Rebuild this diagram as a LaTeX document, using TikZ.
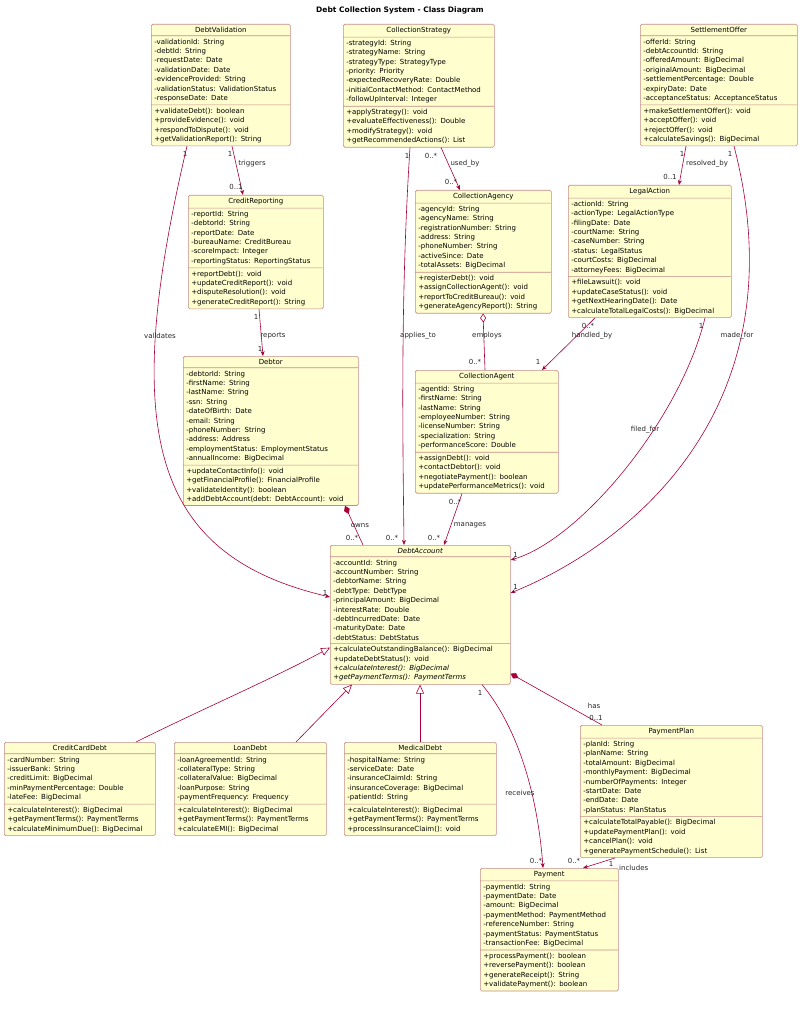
\documentclass[tikz,border=0pt]{standalone}
\usepackage{fontspec}
\setmainfont{DejaVu Sans}
\usetikzlibrary{shapes.multipart,arrows.meta,calc}
\definecolor{clsfill}{HTML}{FEFECE}
\definecolor{clsline}{HTML}{C88A8A}
\definecolor{edge}{HTML}{A80036}
\tikzset{
  cls/.style={rectangle split, rectangle split parts=3, draw=clsline, fill=clsfill,
    rounded corners=1.5pt, anchor=north west, inner xsep=3pt, inner ysep=2.7pt,
    font=\fontsize{7}{9.4}\selectfont, line width=0.6pt},
  rel/.style={draw=edge, line width=0.6pt},
  arr/.style={rel, -{Stealth[length=5pt,width=4pt]}},
  lab/.style={font=\fontsize{7}{8}\selectfont, inner sep=1pt, text=black!85},
  gen/.style={rel, -{Triangle[open,length=9pt,width=8pt]}},
}
\newcommand\umlcls[7]{%
  \node[cls, text width=#4pt-6pt] (#1) at (#2,#3) {\makebox[\linewidth][c]{#5}\nodepart{two}#6\nodepart{three}#7};}
\begin{document}
\begin{tikzpicture}[x=1pt,y=-1pt]
\useasboundingbox (0,0) rectangle (801,1024);
\node[font=\fontsize{7.5}{9}\selectfont\bfseries] (title) at (400,10) {Debt Collection System - Class Diagram};

\umlcls{dv}{151}{24}{139}{DebtValidation}{-validationId: String\\-debtId: String\\-requestDate: Date\\-validationDate: Date\\-evidenceProvided: String\\-validationStatus: ValidationStatus\\-responseDate: Date}{+validateDebt(): boolean\\+provideEvidence(): void\\+respondToDispute(): void\\+getValidationReport(): String}
\umlcls{cs}{343}{24}{151}{CollectionStrategy}{-strategyId: String\\-strategyName: String\\-strategyType: StrategyType\\-priority: Priority\\-expectedRecoveryRate: Double\\-initialContactMethod: ContactMethod\\-followUpInterval: Integer}{+applyStrategy(): void\\+evaluateEffectiveness(): Double\\+modifyStrategy(): void\\+getRecommendedActions(): List}
\umlcls{so}{640}{24}{157}{SettlementOffer}{-offerId: String\\-debtAccountId: String\\-offeredAmount: BigDecimal\\-originalAmount: BigDecimal\\-settlementPercentage: Double\\-expiryDate: Date\\-acceptanceStatus: AcceptanceStatus}{+makeSettlementOffer(): void\\+acceptOffer(): void\\+rejectOffer(): void\\+calculateSavings(): BigDecimal}
\umlcls{cr}{188}{195}{135}{CreditReporting}{-reportId: String\\-debtorId: String\\-reportDate: Date\\-bureauName: CreditBureau\\-scoreImpact: Integer\\-reportingStatus: ReportingStatus}{+reportDebt(): void\\+updateCreditReport(): void\\+disputeResolution(): void\\+generateCreditReport(): String}
\umlcls{ca}{415}{190}{136}{CollectionAgency}{-agencyId: String\\-agencyName: String\\-registrationNumber: String\\-address: String\\-phoneNumber: String\\-activeSince: Date\\-totalAssets: BigDecimal}{+registerDebt(): void\\+assignCollectionAgent(): void\\+reportToCreditBureau(): void\\+generateAgencyReport(): String}
\umlcls{la}{568}{185}{163}{LegalAction}{-actionId: String\\-actionType: LegalActionType\\-filingDate: Date\\-courtName: String\\-caseNumber: String\\-status: LegalStatus\\-courtCosts: BigDecimal\\-attorneyFees: BigDecimal}{+fileLawsuit(): void\\+updateCaseStatus(): void\\+getNextHearingDate(): Date\\+calculateTotalLegalCosts(): BigDecimal}
\umlcls{dr}{183}{356}{175}{Debtor}{-debtorId: String\\-firstName: String\\-lastName: String\\-ssn: String\\-dateOfBirth: Date\\-email: String\\-phoneNumber: String\\-address: Address\\-employmentStatus: EmploymentStatus\\-annualIncome: BigDecimal}{+updateContactInfo(): void\\+getFinancialProfile(): FinancialProfile\\+validateIdentity(): boolean\\+addDebtAccount(debt: DebtAccount): void}
\umlcls{ag}{415}{370}{143}{CollectionAgent}{-agentId: String\\-firstName: String\\-lastName: String\\-employeeNumber: String\\-licenseNumber: String\\-specialization: String\\-performanceScore: Double}{+assignDebt(): void\\+contactDebtor(): void\\+negotiatePayment(): boolean\\+updatePerformanceMetrics(): void}
\umlcls{da}{330}{545}{180}{\textit{DebtAccount}}{-accountId: String\\-accountNumber: String\\-debtorName: String\\-debtType: DebtType\\-principalAmount: BigDecimal\\-interestRate: Double\\-debtIncurredDate: Date\\-maturityDate: Date\\-debtStatus: DebtStatus}{+calculateOutstandingBalance(): BigDecimal\\+updateDebtStatus(): void\\\textit{+calculateInterest(): BigDecimal}\\\textit{+getPaymentTerms(): PaymentTerms}}
\umlcls{cc}{4}{742}{151}{CreditCardDebt}{-cardNumber: String\\-issuerBank: String\\-creditLimit: BigDecimal\\-minPaymentPercentage: Double\\-lateFee: BigDecimal}{+calculateInterest(): BigDecimal\\+getPaymentTerms(): PaymentTerms\\+calculateMinimumDue(): BigDecimal}
\umlcls{ld}{174}{742}{152}{LoanDebt}{-loanAgreementId: String\\-collateralType: String\\-collateralValue: BigDecimal\\-loanPurpose: String\\-paymentFrequency: Frequency}{+calculateInterest(): BigDecimal\\+getPaymentTerms(): PaymentTerms\\+calculateEMI(): BigDecimal}
\umlcls{md}{344}{742}{152}{MedicalDebt}{-hospitalName: String\\-serviceDate: Date\\-insuranceClaimId: String\\-insuranceCoverage: BigDecimal\\-patientId: String}{+calculateInterest(): BigDecimal\\+getPaymentTerms(): PaymentTerms\\+processInsuranceClaim(): void}
\umlcls{pp}{580}{725}{182}{PaymentPlan}{-planId: String\\-planName: String\\-totalAmount: BigDecimal\\-monthlyPayment: BigDecimal\\-numberOfPayments: Integer\\-startDate: Date\\-endDate: Date\\-planStatus: PlanStatus}{+calculateTotalPayable(): BigDecimal\\+updatePaymentPlan(): void\\+cancelPlan(): void\\+generatePaymentSchedule(): List}
\umlcls{pm}{480}{868}{138}{Payment}{-paymentId: String\\-paymentDate: Date\\-amount: BigDecimal\\-paymentMethod: PaymentMethod\\-referenceNumber: String\\-paymentStatus: PaymentStatus\\-transactionFee: BigDecimal}{+processPayment(): boolean\\+reversePayment(): boolean\\+generateReceipt(): String\\+validatePayment(): boolean}

% validates
\draw[arr] ($(dv.south west)+(36,0)$) .. controls (120,430) and (150,555) .. ($(da.north west)+(0,52)$);
\node[lab] at (160,336) {validates};
\node[lab] at ($(dv.south west)+(34,8)$) {1};
\node[lab] at ($(da.north west)+(-5,48)$) {1};
% triggers
\draw[arr] ($(dv.south west)+(81,0)$) -- ($(cr.north west)+(55,0)$);
\node[lab] at (252,164) {triggers};
\node[lab] at ($(dv.south west)+(79,8)$) {1};
\node[lab] at ($(cr.north west)+(48,-8)$) {0..1};
% reports
\draw[arr] ($(cr.south west)+(71,0)$) -- ($(dr.north west)+(80,0)$);
\node[lab] at (273,336) {reports};
\node[lab] at ($(cr.south west)+(68,8)$) {1};
\node[lab] at ($(dr.north west)+(77,-7)$) {1};
% applies_to
\draw[arr] ($(cs.south west)+(67,0)$) .. controls (400,300) and (403,450) .. ($(da.north west)+(74,0)$);
\node[lab] at (418,336) {applies\_to};
\node[lab] at ($(cs.south west)+(64,8)$) {1};
\node[lab] at ($(da.north west)+(62,-7)$) {0..*};
% used_by
\draw[arr] ($(cs.south west)+(98,0)$) -- ($(ca.north west)+(45,0)$);
\node[lab] at (465,164) {used\_by};
\node[lab] at ($(cs.south west)+(88,8)$) {0..*};
\node[lab] at ($(ca.north west)+(36,-8)$) {0..*};
% employs
\draw[rel, {Diamond[open,length=9pt,width=6pt]}-] ($(ca.south west)+(68,0)$) -- ($(ag.north west)+(70,0)$);
\node[lab] at (487,336) {employs};
\node[lab] at ($(ag.north west)+(60,-8)$) {0..*};
% handled_by
\draw[arr] ($(la.south west)+(27,0)$) -- ($(ag.north west)+(127,0)$);
\node[lab] at (592,336) {handled\_by};
\node[lab] at ($(la.south west)+(20,8)$) {0..*};
\node[lab] at ($(ag.north west)+(123,-8)$) {1};
% manages
\draw[arr] ($(ag.south west)+(47,0)$) -- ($(da.north west)+(114,0)$);
\node[lab] at (470,525) {manages};
\node[lab] at ($(ag.south west)+(40,8)$) {0..*};
\node[lab] at ($(da.north west)+(104,-7)$) {0..*};
% owns
\draw[rel, {Diamond[length=9pt,width=6pt]}-] ($(dr.south west)+(162,0)$) -- ($(da.north west)+(33,0)$);
\node[lab] at (360,526) {owns};
\node[lab] at ($(da.north west)+(22,-7)$) {0..*};
% filed_for
\draw[arr] ($(la.south west)+(137,0)$) .. controls (680,420) and (580,540) .. ($(da.north east)+(0,15)$);
\node[lab] at (645,430) {filed\_for};
\node[lab] at ($(la.south west)+(133,8)$) {1};
\node[lab] at ($(da.north east)+(5,10)$) {1};
% made_for
\draw[arr] ($(so.south west)+(94,0)$) .. controls (800,400) and (640,540) .. ($(da.north east)+(0,48)$);
\node[lab] at (737,336) {made\_for};
\node[lab] at ($(so.south west)+(90,8)$) {1};
\node[lab] at ($(da.north east)+(5,42)$) {1};
% resolved_by
\draw[arr] ($(so.south west)+(46,0)$) -- ($(la.north west)+(111,0)$);
\node[lab] at (707,164) {resolved\_by};
\node[lab] at ($(so.south west)+(42,8)$) {1};
\node[lab] at ($(la.north west)+(102,-8)$) {0..1};
% has
\draw[rel, {Diamond[length=9pt,width=6pt]}-] ($(da.south east)+(0,-11)$) -- ($(pp.north west)+(22,0)$);
\node[lab] at (594,706) {has};
\node[lab] at ($(pp.north west)+(16,-7)$) {0..1};
% receives
\draw[arr] ($(da.south west)+(152,0)$) .. controls (520,730) and (538,800) .. ($(pm.north west)+(63,0)$);
\node[lab] at (520,793) {receives};
\node[lab] at ($(da.south west)+(150,8)$) {1};
\node[lab] at ($(pm.north west)+(56,-7)$) {0..*};
% includes
\draw[arr] ($(pp.south west)+(35,0)$) -- ($(pm.north west)+(103,0)$);
\node[lab, anchor=west] at ($(pp.south west)+(38,10)$) {includes};
\node[lab] at ($(pp.south west)+(31,6)$) {1};
\node[lab] at ($(pm.north west)+(94,-7)$) {0..*};
% generalizations
\draw[gen] ($(cc.north west)+(132,0)$) .. controls (200,710) and (270,680) .. ($(da.south west)+(0,-37)$);
\draw[gen] ($(ld.north west)+(122,0)$) -- ($(da.south west)+(22,0)$);
\draw[gen] ($(md.north west)+(76,0)$) -- ($(da.south west)+(90,0)$);
\end{tikzpicture}
\end{document}
